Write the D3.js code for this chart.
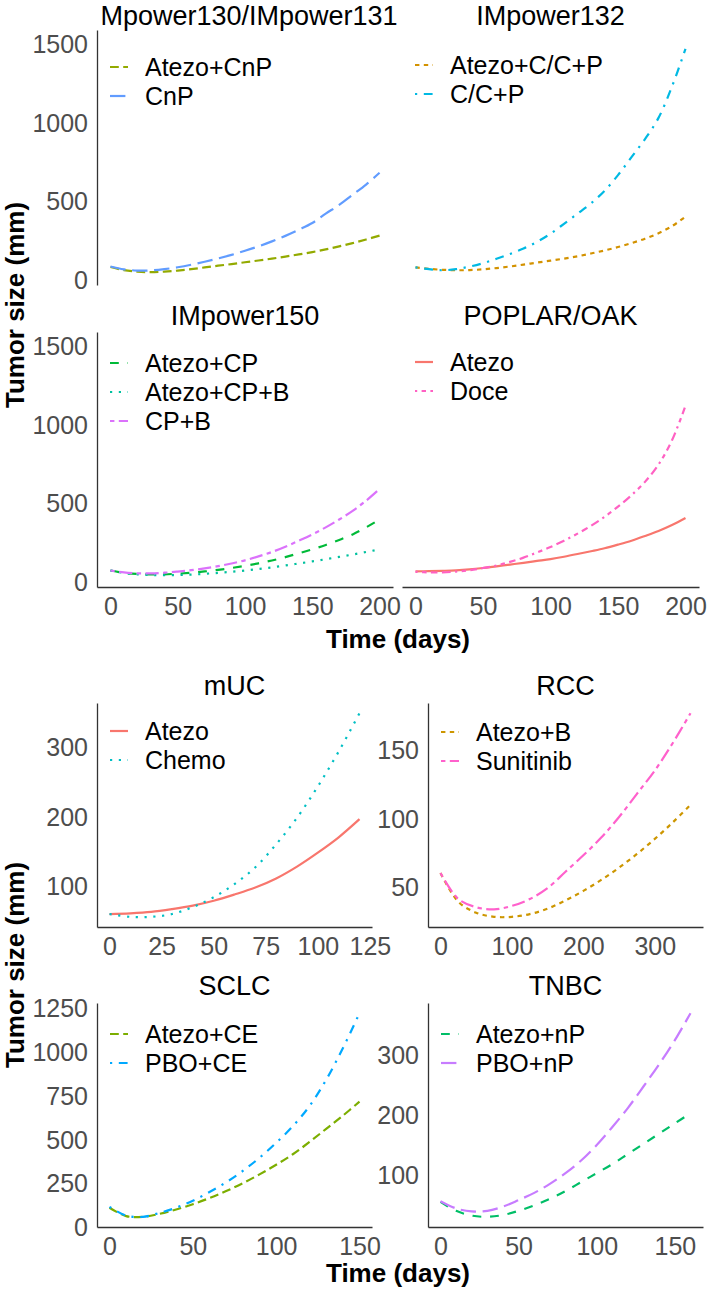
<!DOCTYPE html>
<html><head><meta charset="utf-8">
<script src="https://cdn.jsdelivr.net/npm/d3@7"></script>
<style>
html,body{margin:0;padding:0;background:#fff;}
svg{display:block;font-family:"Liberation Sans",Arial,Helvetica,sans-serif;}
</style></head><body>
<svg id="chart" width="709" height="1290"></svg>
<script>
// ================= Figure A: NSCLC trials (shared scales) =================
const panelTitlesA = ["Mpower130/IMpower131", "IMpower132", "IMpower150", "POPLAR/OAK"];
const timeA = [0,10,20,30,40,50,60,70,80,90,100,110,120,130,140,150,160,170,180,190,200];
const atezoCnP  = [80,60,50,47,50,57,66,77,88,98,110,121,133,146,160,175,192,211,232,255,280];
const cnP       = [83,65,57,58,66,78,94,113,134,157,183,211,243,278,317,360,420,475,540,605,680];
const atezoCCP  = [77,68,62,59,60,65,73,83,95,108,120,133,148,166,185,207,232,260,295,340,400];
const ccP       = [77,66,59,66,82,104,132,163,197,240,292,355,420,485,565,665,780,895,1030,1230,1470];
const atezoCP   = [70,55,48,45,46,50,56,64,74,86,100,116,134,155,180,205,233,265,300,345,395];
const atezoCPB  = [70,55,46,42,40,41,44,49,55,62,70,80,90,102,115,128,142,157,172,188,205];
const cpB       = [70,58,52,52,56,63,72,84,98,115,135,160,188,222,260,300,345,395,450,515,590];
const atezoPO   = [65,66,68,71,77,86,97,108,119,131,143,158,175,193,212,235,260,290,322,360,405];
const doce      = [62,58,58,63,72,86,102,125,152,185,220,260,305,355,412,477,550,635,745,900,1120];
const xTicksA = [0,50,100,150,200];
const yTicksA = [0,500,1000,1500];
const yLimitsA = [-35,1590];

// ================= Figure B: other indications (free scales) =================
const panelTitlesB = ["mUC", "RCC", "SCLC", "TNBC"];
const timeMUC  = [0,10,20,30,40,50,60,70,80,90,100,110,120];
const atezoMUC = [60,61,63,67,72,79,88,98,111,128,148,170,196];
const chemoMUC = [60,56,56,60,70,84,103,127,160,198,243,293,348];
const timeRCC  = [0,25,50,75,100,125,150,175,200,225,250,275,300,325,350];
const atezoB   = [60,39,31,28,28,30,34,40,47,55,64,74,85,97,110];
const sunitinib= [60,41,35,33.5,36,41,49,61,73,86,101,118,135,155,177];
const timeSCLC = [0,10,20,30,40,50,60,70,80,90,100,110,120,130,140,150];
const atezoCE  = [110,62,58,75,100,130,165,205,250,300,355,415,485,560,635,715];
const pboCE    = [115,65,58,80,110,150,200,255,320,395,480,575,690,840,1020,1220];
const timeTNBC = [0,10,20,30,40,50,60,70,80,90,100,110,120,130,140,150,160];
const atezoNP  = [55,40,32,30,33,40,49,60,73,88,103,118,135,152,169,186,203];
const pboNP    = [56,44,39,40,47,58,70,85,103,124,150,180,212,248,285,325,370];
const xTicksMUC = [0,25,50,75,100,125];
const yTicksMUC = [100,200,300];
const xTicksRCC = [0,100,200,300];
const yTicksRCC = [50,100,150];
const xTicksSCLC = [0,50,100,150];
const yTicksSCLC = [0,250,500,750,1000,1250];
const xTicksTNBC = [0,50,100,150];
const yTicksTNBC = [100,200,300];

// ================= styles (ggplot hue palette + linetype palette) =================
const colorsA = {"Atezo":"#F8766D","Atezo+C/C+P":"#D39200","Atezo+CnP":"#93AA00","Atezo+CP":"#00BA38",
  "Atezo+CP+B":"#00C19F","C/C+P":"#00B9E3","CnP":"#619CFF","CP+B":"#DB72FB","Doce":"#FF61C3"};
const colorsB = {"Atezo":"#F8766D","Atezo+B":"#CD9600","Atezo+CE":"#7CAE00","Atezo+nP":"#00BE67",
  "Chemo":"#00BFC4","PBO+CE":"#00A9FF","PBO+nP":"#C77CFF","Sunitinib":"#FF61CC"};
const ltypesA = {"Atezo":"solid","Atezo+C/C+P":"22","Atezo+CnP":"42","Atezo+CP":"44","Atezo+CP+B":"13",
  "C/C+P":"1343","CnP":"73","CP+B":"2262","Doce":"12223242"};
const ltypesB = {"Atezo":"solid","Atezo+B":"22","Atezo+CE":"42","Atezo+nP":"44","Chemo":"13",
  "PBO+CE":"1343","PBO+nP":"73","Sunitinib":"2262"};

const LW = 2.2;
function dashArr(lt){ return lt === "solid" ? null : lt.split("").map(c => parseInt(c,16)*LW).join(","); }
function expand(vals){ const lo = d3.min(vals), hi = d3.max(vals), s = hi-lo; return [lo-0.05*s, hi+0.05*s]; }

const svg = d3.select("#chart");
const FS_TICK = 25, FS_LEG = 25, FS_STRIP = 27, FS_TITLE = 26;
const AXIS_COL = "#333333";

function drawPanel(p){
  const x = d3.scaleLinear().domain(p.xDomain).range([p.x0, p.x1]);
  const y = d3.scaleLinear().domain(p.yDomain).range([p.y1, p.y0]);
  const g = svg.append("g");
  g.append("text").attr("x", p.titleX !== undefined ? p.titleX : (p.x0+p.x1)/2).attr("y", p.y0 - p.titleGap)
    .attr("text-anchor","middle").attr("font-size",FS_STRIP).attr("fill","#000").text(p.title);
  const line = d3.line().x(d => x(d[0])).y(d => y(d[1])).curve(d3.curveCatmullRom.alpha(0.5));
  p.series.forEach(s => {
    const pts = p.time.map((t,i) => [t, s.values[i]]);
    g.append("path").datum(pts).attr("d", line).attr("fill","none")
      .attr("stroke", p.colors[s.name]).attr("stroke-width", LW)
      .attr("stroke-dasharray", dashArr(p.ltypes[s.name]));
  });
  if (p.showY){
    const ax = g.append("g").attr("transform",`translate(${p.x0},0)`)
      .call(d3.axisLeft(y).tickValues(p.yTicks).tickSize(0).tickSizeOuter(0).tickPadding(9).tickFormat(d3.format("d")));
    ax.attr("font-family",null).attr("font-size",FS_TICK);
    ax.selectAll("text").attr("fill","#4D4D4D").attr("dy","0.35em");
    ax.select(".domain").attr("stroke",AXIS_COL).attr("stroke-width",1.3);
  }
  if (p.showX){
    const ax = g.append("g").attr("transform",`translate(0,${p.y1})`)
      .call(d3.axisBottom(x).tickValues(p.xTicks).tickSize(0).tickSizeOuter(0).tickPadding(10).tickFormat(d3.format("d")));
    ax.attr("font-family",null).attr("font-size",FS_TICK);
    ax.selectAll("text").attr("fill","#4D4D4D");
    ax.select(".domain").attr("stroke",AXIS_COL).attr("stroke-width",1.3);
  }
  // legend
  p.series.forEach((s,i) => {
    const ly = p.y0 + p.legTop + i*29;
    g.append("line").attr("x1",p.x0+13).attr("x2",p.x0+31).attr("y1",ly).attr("y2",ly)
      .attr("stroke",p.colors[s.name]).attr("stroke-width",LW)
      .attr("stroke-dasharray", dashArr(p.ltypes[s.name]));
    g.append("text").attr("x",p.x0+48).attr("y",ly).attr("dy","0.35em")
      .attr("font-size",FS_LEG).attr("fill","#000").text(s.name);
  });
}

const colLA = [97,393], colRA = [402,699];
const row1A = [30,285], row2A = [332,587];
const xDomA = expand(timeA);
const commonA = {time: timeA, xDomain: xDomA, yDomain: yLimitsA, xTicks: xTicksA, yTicks: yTicksA, colors: colorsA, ltypes: ltypesA};

const panelsA = [
  {...commonA, title: panelTitlesA[0], titleX: 249, titleGap: 5, x0: colLA[0], x1: colLA[1], y0: row1A[0], y1: row1A[1], showY: true, showX: false, legTop: 37,
   series: [{name:"Atezo+CnP", values: atezoCnP}, {name:"CnP", values: cnP}]},
  {...commonA, title: panelTitlesA[1], titleGap: 5, x0: colRA[0], x1: colRA[1], y0: row1A[0], y1: row1A[1], showY: false, showX: false, legTop: 35,
   series: [{name:"Atezo+C/C+P", values: atezoCCP}, {name:"C/C+P", values: ccP}]},
  {...commonA, title: panelTitlesA[2], titleGap: 7, x0: colLA[0], x1: colLA[1], y0: row2A[0], y1: row2A[1], showY: true, showX: true, legTop: 31,
   series: [{name:"Atezo+CP", values: atezoCP}, {name:"Atezo+CP+B", values: atezoCPB}, {name:"CP+B", values: cpB}]},
  {...commonA, title: panelTitlesA[3], titleGap: 7, x0: colRA[0], x1: colRA[1], y0: row2A[0], y1: row2A[1], showY: false, showX: true, legTop: 30,
   series: [{name:"Atezo", values: atezoPO}, {name:"Doce", values: doce}]}
];

const colLB = [97,372], colRB = [428,703];
const row1B = [703,927], row2B = [1003,1227];
const panelsB = [
  {title: panelTitlesB[0], titleGap: 8, time: timeMUC, xDomain: expand(timeMUC), yDomain: expand(atezoMUC.concat(chemoMUC)),
   xTicks: xTicksMUC, yTicks: yTicksMUC, colors: colorsB, ltypes: ltypesB,
   x0: colLB[0], x1: colLB[1], y0: row1B[0], y1: row1B[1], showY: true, showX: true, legTop: 28,
   series: [{name:"Atezo", values: atezoMUC}, {name:"Chemo", values: chemoMUC}]},
  {title: panelTitlesB[1], titleGap: 8, time: timeRCC, xDomain: expand(timeRCC), yDomain: expand(atezoB.concat(sunitinib)),
   xTicks: xTicksRCC, yTicks: yTicksRCC, colors: colorsB, ltypes: ltypesB,
   x0: colRB[0], x1: colRB[1], y0: row1B[0], y1: row1B[1], showY: true, showX: true, legTop: 29,
   series: [{name:"Atezo+B", values: atezoB}, {name:"Sunitinib", values: sunitinib}]},
  {title: panelTitlesB[2], titleGap: 8, time: timeSCLC, xDomain: expand(timeSCLC), yDomain: expand(atezoCE.concat(pboCE)),
   xTicks: xTicksSCLC, yTicks: yTicksSCLC, colors: colorsB, ltypes: ltypesB,
   x0: colLB[0], x1: colLB[1], y0: row2B[0], y1: row2B[1], showY: true, showX: true, legTop: 31,
   series: [{name:"Atezo+CE", values: atezoCE}, {name:"PBO+CE", values: pboCE}]},
  {title: panelTitlesB[3], titleGap: 8, time: timeTNBC, xDomain: expand(timeTNBC), yDomain: expand(atezoNP.concat(pboNP)),
   xTicks: xTicksTNBC, yTicks: yTicksTNBC, colors: colorsB, ltypes: ltypesB,
   x0: colRB[0], x1: colRB[1], y0: row2B[0], y1: row2B[1], showY: true, showX: true, legTop: 31,
   series: [{name:"Atezo+nP", values: atezoNP}, {name:"PBO+nP", values: pboNP}]}
];

panelsA.forEach(drawPanel);
panelsB.forEach(drawPanel);

// axis titles
function yTitle(cy){
  svg.append("text").attr("transform",`translate(24,${cy}) rotate(-90)`).attr("text-anchor","middle")
    .attr("font-size",FS_TITLE).attr("font-weight","bold").attr("fill","#000").text("Tumor size (mm)");
}
function xTitle(by){
  svg.append("text").attr("x",398).attr("y",by).attr("text-anchor","middle")
    .attr("font-size",FS_TITLE).attr("font-weight","bold").attr("fill","#000").text("Time (days)");
}
yTitle(305); xTitle(648);
yTitle(965); xTitle(1282);
</script>
</body></html>
